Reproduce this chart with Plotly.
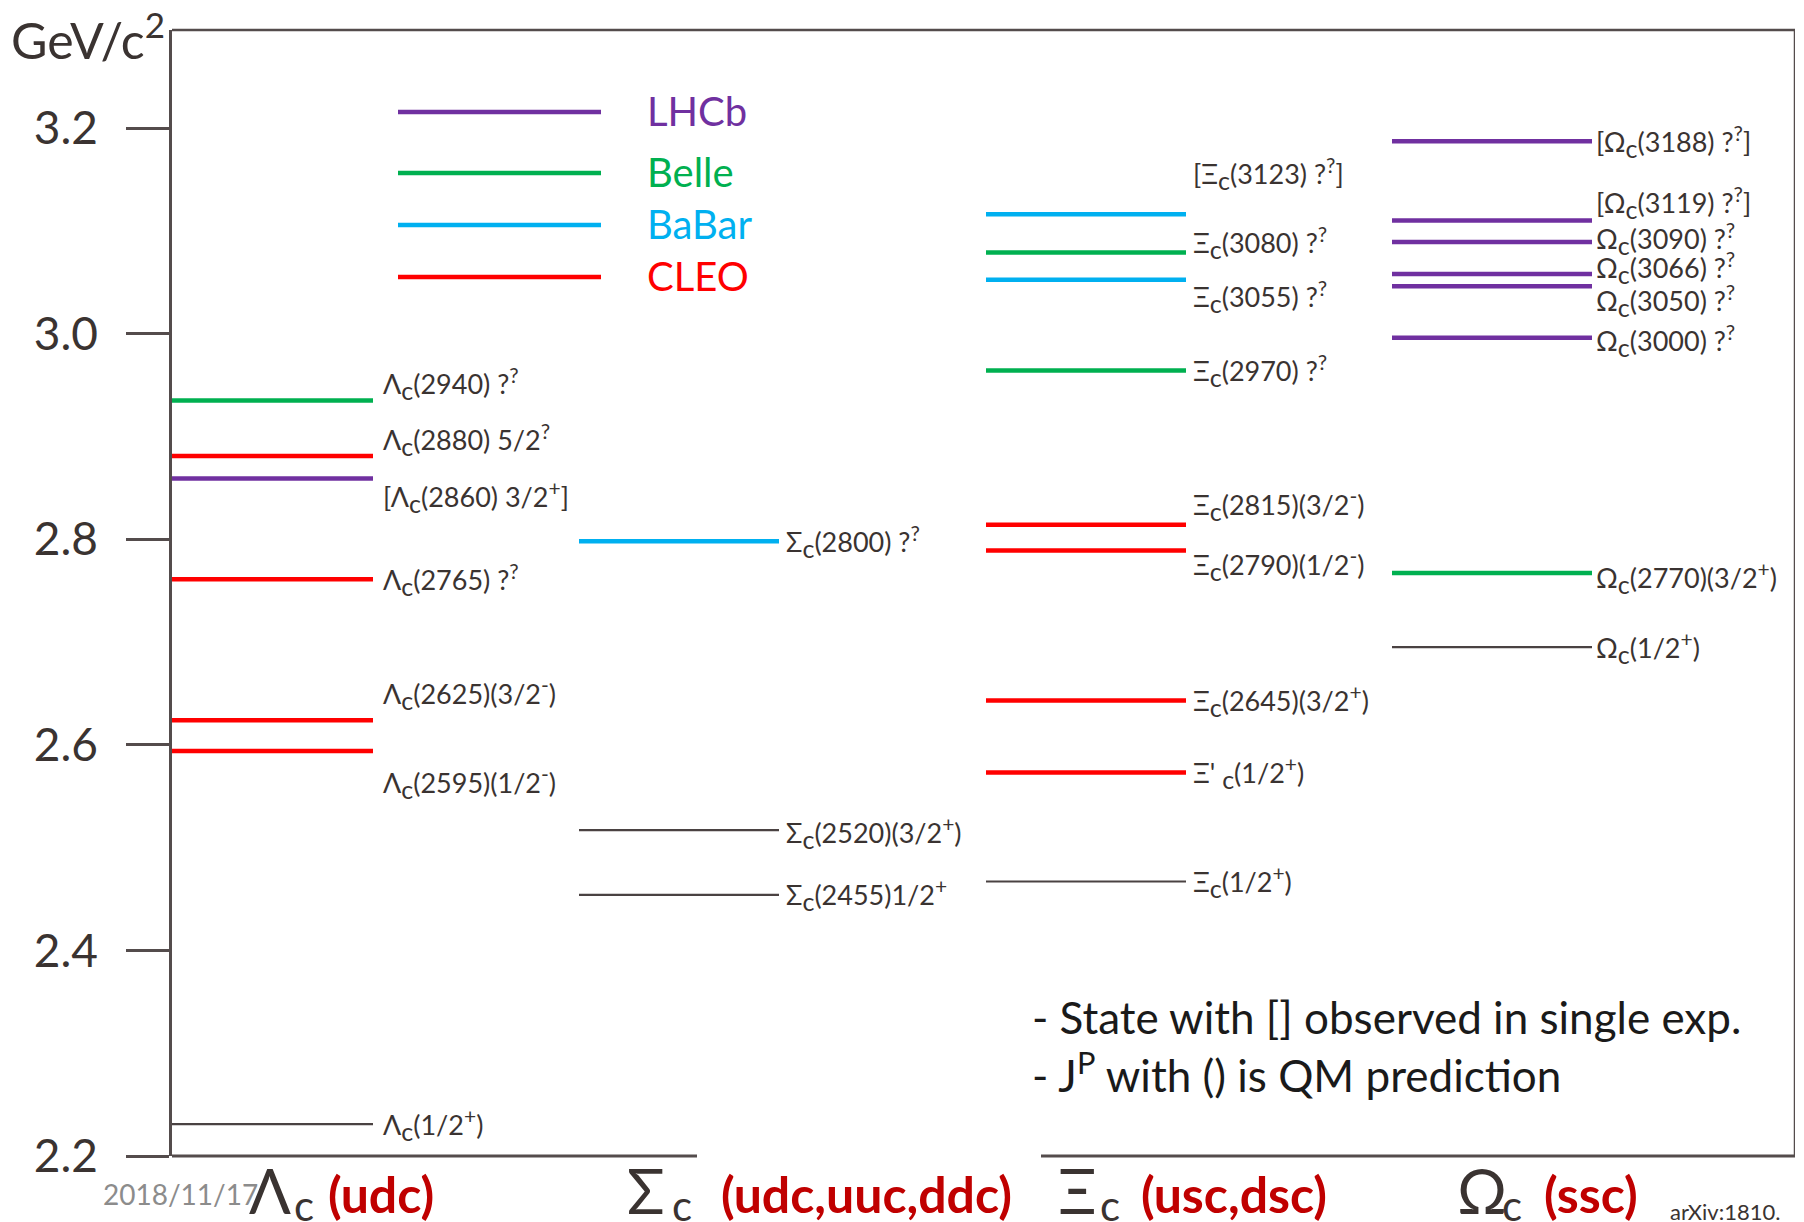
import plotly.graph_objects as go

# ---------------- data ----------------
experiments = ["LHCb", "Belle", "BaBar", "CLEO"]
exp_colors = {"LHCb": "#7030A0", "Belle": "#00B050", "BaBar": "#00B0F0",
              "CLEO": "#FF0000", "QM": "#4a4242"}

lam_mass = [2.935, 2.881, 2.859, 2.761, 2.624, 2.594, 2.231]
lam_exp = ["Belle", "CLEO", "LHCb", "CLEO", "CLEO", "CLEO", "QM"]
lam_label = ["Λ<sub>c</sub>(2940) ?<sup>?</sup>", "Λ<sub>c</sub>(2880) 5/2<sup>?</sup>",
             "[Λ<sub>c</sub>(2860) 3/2<sup>+</sup>]", "Λ<sub>c</sub>(2765) ?<sup>?</sup>",
             "Λ<sub>c</sub>(2625)(3/2<sup>-</sup>)", "Λ<sub>c</sub>(2595)(1/2<sup>-</sup>)",
             "Λ<sub>c</sub>(1/2<sup>+</sup>)"]

sig_mass = [2.798, 2.517, 2.454]
sig_exp = ["BaBar", "QM", "QM"]
sig_label = ["Σ<sub>c</sub>(2800) ?<sup>?</sup>", "Σ<sub>c</sub>(2520)(3/2<sup>+</sup>)",
             "Σ<sub>c</sub>(2455)1/2<sup>+</sup>"]

xi_mass = [3.116, 3.079, 3.0525, 2.964, 2.814, 2.789, 2.643, 2.573, 2.467]
xi_exp = ["BaBar", "Belle", "BaBar", "Belle", "CLEO", "CLEO", "CLEO", "CLEO", "QM"]
xi_label = ["[Ξ<sub>c</sub>(3123) ?<sup>?</sup>]", "Ξ<sub>c</sub>(3080) ?<sup>?</sup>",
            "Ξ<sub>c</sub>(3055) ?<sup>?</sup>", "Ξ<sub>c</sub>(2970) ?<sup>?</sup>",
            "Ξ<sub>c</sub>(2815)(3/2<sup>-</sup>)", "Ξ<sub>c</sub>(2790)(1/2<sup>-</sup>)",
            "Ξ<sub>c</sub>(2645)(3/2<sup>+</sup>)", "Ξ' <sub>c</sub>(1/2<sup>+</sup>)",
            "Ξ<sub>c</sub>(1/2<sup>+</sup>)"]

om_mass = [3.187, 3.110, 3.089, 3.058, 3.046, 2.996, 2.767, 2.695]
om_exp = ["LHCb", "LHCb", "LHCb", "LHCb", "LHCb", "LHCb", "Belle", "QM"]
om_label = ["[Ω<sub>c</sub>(3188) ?<sup>?</sup>]", "[Ω<sub>c</sub>(3119) ?<sup>?</sup>]",
            "Ω<sub>c</sub>(3090) ?<sup>?</sup>", "Ω<sub>c</sub>(3066) ?<sup>?</sup>",
            "Ω<sub>c</sub>(3050) ?<sup>?</sup>", "Ω<sub>c</sub>(3000) ?<sup>?</sup>",
            "Ω<sub>c</sub>(2770)(3/2<sup>+</sup>)", "Ω<sub>c</sub>(1/2<sup>+</sup>)"]

family_greek = ["Λ", "Σ", "Ξ", "Ω"]
family_quarks = ["(udc)", "(udc,uuc,ddc)", "(usc,dsc)", "(ssc)"]

y_ticks = [2.2, 2.4, 2.6, 2.8, 3.0, 3.2]
y_ticktext = ["2.2", "2.4", "2.6", "2.8", "3.0", "3.2"]

# ---------------- layout constants (pixels) ----------------
W, H = 1804, 1222
L, R, T, B = 172, 1795, 30, 1156
col_x0 = [172, 579, 986, 1392]
col_x1 = [373, 779, 1186, 1592]
label_gap = [8, 5, 5, 2]
lam_dy = [17, 16, -18, 0, 27, -32, 0]
sig_dy = [0, -2, 0]
xi_dy = [41, 10, -17, 0, 20, -14, 0, 0, 0]
om_dy = [0, 18, 4, 6, -14, -3, -4, 0]

TXT = "#3a3331"
FRAME = "#544c4c"
FONT = "Lato"
LAB_SIZE = 27


def py(ypix):
    return (B - ypix) / (B - T)


def px(xpix):
    return (xpix - L) / (R - L)


def styled(label):
    s = label.replace("<sub>c</sub>", "<sub><span style='font-size:25px'>c</span></sub>")
    s = s.replace("<sup>", "<sup><span style='font-size:21px'>").replace("</sup>", "</span></sup>")
    return s


columns = [(lam_mass, lam_exp, lam_label, lam_dy),
           (sig_mass, sig_exp, sig_label, sig_dy),
           (xi_mass, xi_exp, xi_label, xi_dy),
           (om_mass, om_exp, om_label, om_dy)]

fig = go.Figure()

# level lines grouped by experiment
for exp in experiments + ["QM"]:
    xs, ys = [], []
    for ci, (m, e, lab, dy) in enumerate(columns):
        for mi, ei in zip(m, e):
            if ei == exp:
                xs += [col_x0[ci], col_x1[ci], None]
                ys += [mi, mi, None]
    fig.add_trace(go.Scatter(x=xs, y=ys, mode="lines", hoverinfo="skip",
                             line=dict(color=exp_colors[exp],
                                       width=2.2 if exp == "QM" else 4.5)))

annotations = []
for ci, (m, e, lab, dy) in enumerate(columns):
    for mi, li, d in zip(m, lab, dy):
        annotations.append(dict(x=col_x1[ci] + label_gap[ci], y=mi, xref="x", yref="y",
                                text=styled(li), showarrow=False, xanchor="left", yanchor="middle",
                                yshift=d, font=dict(family=FONT, size=LAB_SIZE, color=TXT)))

# legend
leg_y = [112, 173, 225, 277]
shapes = []
for exp, yp in zip(experiments, leg_y):
    shapes.append(dict(type="line", xref="x", yref="paper", x0=398, x1=601,
                       y0=py(yp), y1=py(yp), line=dict(color=exp_colors[exp], width=4.5)))
    annotations.append(dict(x=645, y=py(yp - 1), xref="x", yref="paper", text=exp,
                            showarrow=False, xanchor="left", yanchor="middle",
                            font=dict(family=FONT, size=40, color=exp_colors[exp])))

# frame
shapes += [
    dict(type="line", xref="x", yref="paper", x0=L, x1=R, y0=1, y1=1, line=dict(color=FRAME, width=2.5)),
    dict(type="line", xref="x", yref="paper", x0=R, x1=R, y0=0, y1=1, line=dict(color=FRAME, width=2.5)),
    dict(type="line", xref="x", yref="paper", x0=L, x1=697, y0=0, y1=0, line=dict(color=FRAME, width=3)),
    dict(type="line", xref="x", yref="paper", x0=1041, x1=R, y0=0, y1=0, line=dict(color=FRAME, width=3)),
]

# family labels at bottom
greek_x = [247, 625, 1056, 1455]
sub_x = [292, 670, 1098, 1500]
quark_x = [326, 719, 1139, 1542]
for g, q, gx, sx, qx in zip(family_greek, family_quarks, greek_x, sub_x, quark_x):
    annotations.append(dict(x=px(gx), y=py(1190), xref="paper", yref="paper", text=g, showarrow=False,
                            xanchor="left", yanchor="middle",
                            font=dict(family=FONT, size=62, color=TXT)))
    annotations.append(dict(x=px(sx), y=py(1205), xref="paper", yref="paper", text="c", showarrow=False,
                            xanchor="left", yanchor="middle",
                            font=dict(family=FONT, size=42, color=TXT)))
    annotations.append(dict(x=px(qx), y=py(1194), xref="paper", yref="paper", text="<b>" + q + "</b>",
                            showarrow=False, xanchor="left", yanchor="middle",
                            font=dict(family=FONT, size=50, color="#C00000")))

annotations += [
    dict(x=px(9), y=py(36), xref="paper", yref="paper", text="GeV/c<sup>2</sup>", showarrow=False,
         xanchor="left", yanchor="middle", font=dict(family=FONT, size=50, color=TXT)),
    dict(x=px(101), y=py(1194), xref="paper", yref="paper", text="2018/11/17", showarrow=False,
         xanchor="left", yanchor="middle", font=dict(family=FONT, size=28, color="#8c8c8c")),
    dict(x=px(1668), y=py(1212), xref="paper", yref="paper", text="arXiv:1810.", showarrow=False,
         xanchor="left", yanchor="middle", font=dict(family=FONT, size=22, color=TXT)),
    dict(x=px(1030), y=py(1017), xref="paper", yref="paper", text="- State with [] observed in single exp.",
         showarrow=False, xanchor="left", yanchor="middle", font=dict(family=FONT, size=44, color="#1a1a1a")),
    dict(x=px(1030), y=py(1072), xref="paper", yref="paper", text="- J<sup>P</sup> with () is QM prediction",
         showarrow=False, xanchor="left", yanchor="middle", font=dict(family=FONT, size=44, color="#1a1a1a")),
]

fig.update_layout(
    width=W, height=H, margin=dict(l=L, r=W - R, t=T, b=H - B),
    paper_bgcolor="white", plot_bgcolor="white", showlegend=False,
    xaxis=dict(range=[L, R], visible=False, fixedrange=True),
    yaxis=dict(range=[2.2, 3.2 + (128 - T) / 1028], tickvals=y_ticks, ticktext=y_ticktext,
               ticks="outside", ticklen=43, tickwidth=2.5, tickcolor=FRAME,
               showline=True, linecolor=FRAME, linewidth=2.5, showgrid=False, zeroline=False,
               tickfont=dict(family=FONT, size=46, color=TXT), ticklabelstandoff=19),
    shapes=shapes, annotations=annotations,
)

fig.write_html("out.html")
